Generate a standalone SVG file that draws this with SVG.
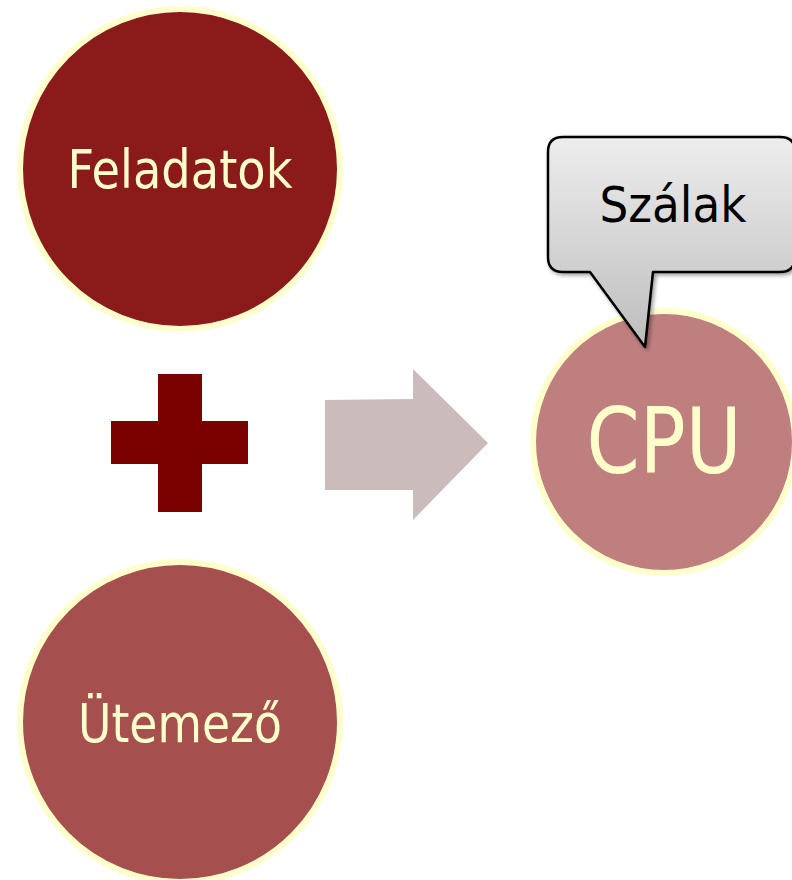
<svg xmlns="http://www.w3.org/2000/svg" width="792" height="880" viewBox="0 0 792 880">
<defs>
<linearGradient id="callGrad" x1="0" y1="0" x2="0" y2="1">
<stop offset="0" stop-color="#EDEDED"/>
<stop offset="1" stop-color="#BDBDBD"/>
</linearGradient>
<filter id="shadow" x="-10%" y="-10%" width="130%" height="130%">
<feGaussianBlur in="SourceAlpha" stdDeviation="2"/>
<feOffset dx="2" dy="2" result="b"/>
<feComponentTransfer><feFuncA type="linear" slope="0.4"/></feComponentTransfer>
<feMerge><feMergeNode/><feMergeNode in="SourceGraphic"/></feMerge>
</filter>
</defs>
<style>
.circ{stroke:#FFFFCC;stroke-width:6}
.lbl{font-family:"DejaVu Sans","Liberation Sans",sans-serif;fill:#FFFFCC;text-anchor:middle}
.call{font-family:"DejaVu Sans","Liberation Sans",sans-serif;fill:#000;text-anchor:middle}
</style>
<rect width="792" height="880" fill="#FFFFFF"/>
<g id="feladatok">
<circle class="circ" cx="180" cy="169" r="160" fill="#8B1A1A"/>
<text class="lbl" x="180" y="188" font-size="54" textLength="225" lengthAdjust="spacingAndGlyphs">Feladatok</text>
</g>
<g id="plus">
<path d="M158,374 H202 V421 H248 V464 H202 V512 H158 V464 H111 V421 H158 Z" fill="#7B0000"/>
</g>
<g id="utemezo">
<circle class="circ" cx="180" cy="722" r="160" fill="#A54F4F"/>
<text class="lbl" x="180" y="742" font-size="54" textLength="204" lengthAdjust="spacingAndGlyphs">Ütemező</text>
</g>
<g id="connectors">
<path d="M325,400 L413,399 L413,369 L488,443 L413,520 L413,490 L325,490 Z" fill="#CBBBBB"/>
</g>
<g id="cpu">
<circle class="circ" cx="664" cy="442" r="131" fill="#BF7F7F"/>
<text class="lbl" x="664" y="473" font-size="90" textLength="155" lengthAdjust="spacingAndGlyphs">CPU</text>
</g>
<g id="szalak">
<path d="M563,137 H780 Q795,137 795,152 V257 Q795,272 780,272 H653 L645,347 L590,272 H563 Q548,272 548,257 V152 Q548,137 563,137 Z" fill="url(#callGrad)" stroke="#000" stroke-width="2.5" stroke-linejoin="round" filter="url(#shadow)"/>
<text class="call" x="673" y="222" font-size="50" textLength="147" lengthAdjust="spacingAndGlyphs">Szálak</text>
</g>
</svg>
